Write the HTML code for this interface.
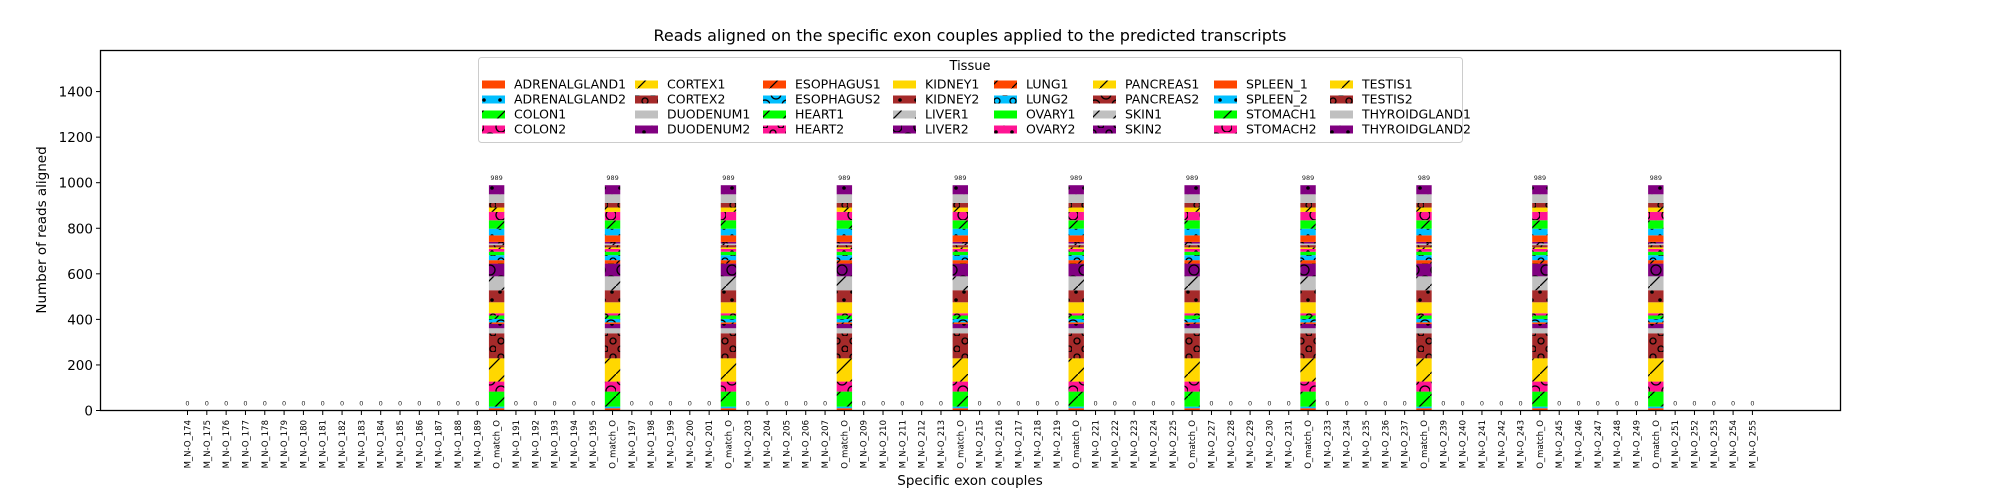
<!DOCTYPE html>
<html><head><meta charset="utf-8"><style>
html,body{margin:0;padding:0;background:#fff;}
svg{display:block;font-family:"DejaVu Sans","Liberation Sans",sans-serif;}
</style></head><body>
<svg id="chart" width="2000" height="500" viewBox="0 0 2000 500" xmlns="http://www.w3.org/2000/svg">
<defs id="defs"></defs>
<rect x="0" y="0" width="2000" height="500" fill="#fff"/>
<text x="970" y="41" font-size="16" text-anchor="middle">Reads aligned on the specific exon couples applied to the predicted transcripts</text>
<text x="970" y="485" font-size="13.5" text-anchor="middle">Specific exon couples</text>
<text transform="translate(46,230) rotate(-90)" font-size="13.5" text-anchor="middle">Number of reads aligned</text>
<g id="bars"></g>
<g id="yaxis"></g>
<g id="xaxis"></g>
<rect x="100.5" y="50.5" width="1740" height="360" fill="none" stroke="#000" stroke-width="1.3"/>
<g id="legend"></g>
</svg>
<script>
const categories = ["M_N-O_174","M_N-O_175","M_N-O_176","M_N-O_177","M_N-O_178","M_N-O_179","M_N-O_180","M_N-O_181","M_N-O_182","M_N-O_183","M_N-O_184","M_N-O_185","M_N-O_186","M_N-O_187","M_N-O_188","M_N-O_189","O_match_O",
"M_N-O_191","M_N-O_192","M_N-O_193","M_N-O_194","M_N-O_195","O_match_O",
"M_N-O_197","M_N-O_198","M_N-O_199","M_N-O_200","M_N-O_201","O_match_O",
"M_N-O_203","M_N-O_204","M_N-O_205","M_N-O_206","M_N-O_207","O_match_O",
"M_N-O_209","M_N-O_210","M_N-O_211","M_N-O_212","M_N-O_213","O_match_O",
"M_N-O_215","M_N-O_216","M_N-O_217","M_N-O_218","M_N-O_219","O_match_O",
"M_N-O_221","M_N-O_222","M_N-O_223","M_N-O_224","M_N-O_225","O_match_O",
"M_N-O_227","M_N-O_228","M_N-O_229","M_N-O_230","M_N-O_231","O_match_O",
"M_N-O_233","M_N-O_234","M_N-O_235","M_N-O_236","M_N-O_237","O_match_O",
"M_N-O_239","M_N-O_240","M_N-O_241","M_N-O_242","M_N-O_243","O_match_O",
"M_N-O_245","M_N-O_246","M_N-O_247","M_N-O_248","M_N-O_249","O_match_O",
"M_N-O_251","M_N-O_252","M_N-O_253","M_N-O_254","M_N-O_255"];
const seriesNames = ["ADRENALGLAND1","ADRENALGLAND2","COLON1","COLON2","CORTEX1","CORTEX2","DUODENUM1","DUODENUM2","ESOPHAGUS1","ESOPHAGUS2","HEART1","HEART2","KIDNEY1","KIDNEY2","LIVER1","LIVER2","LUNG1","LUNG2","OVARY1","OVARY2","PANCREAS1","PANCREAS2","SKIN1","SKIN2","SPLEEN_1","SPLEEN_2","STOMACH1","STOMACH2","TESTIS1","TESTIS2","THYROIDGLAND1","THYROIDGLAND2"];
// values for each series on O_match_O bars (other categories are 0)
const matchValues = [10,7,66,44,102,110,22,19,7,15,15,10,48,53,61,56,15,22,15,12,7,10,7,7,29,29,37,37,19,20,38,40];
const nonMatchValues = seriesNames.map(()=>0);
const yTicks = [0,200,400,600,800,1000,1200,1400];

const colorCycle = ["#ff4500","#00bfff","#00ff00","#ff1493","#ffd700","#a52a2a","#c0c0c0","#800080"];
const hatchCycle = ["","dot","slash","bigO","slash","smallo"];
const NS="http://www.w3.org/2000/svg";
const Y0=410.5, PXU=0.2278, X0=187.5, STEP=19.32, BW=15.4;
const yS=v=>Y0-v*PXU;
const xS=i=>X0+i*STEP;
function mk(tag,attrs,parent){const e=document.createElementNS(NS,tag);for(const k in attrs)e.setAttribute(k,attrs[k]);if(parent)parent.appendChild(e);return e;}
const defs=document.getElementById('defs');
function fillFor(s){
  const c=colorCycle[s%8], h=hatchCycle[s%6];
  if(!h) return c;
  const id='p'+s;
  const w=(h==='slash'||h==='bigO')?22:16;
  const p=mk('pattern',{id:id,patternUnits:'userSpaceOnUse',width:w,height:w},defs);
  mk('rect',{x:0,y:0,width:w,height:w,fill:c},p);
  if(h==='slash'){mk('line',{x1:0,y1:w,x2:w,y2:0,stroke:'#000','stroke-width':1.3},p);}
  if(h==='dot'){mk('circle',{cx:4,cy:4,r:1.8,fill:'#000'},p);mk('circle',{cx:12,cy:12,r:1.8,fill:'#000'},p);}
  if(h==='smallo'){mk('circle',{cx:5,cy:5,r:3,fill:'none',stroke:'#000','stroke-width':1.3},p);mk('circle',{cx:13,cy:13,r:3,fill:'none',stroke:'#000','stroke-width':1.3},p);}
  if(h==='bigO'){mk('circle',{cx:6,cy:6,r:5,fill:'none',stroke:'#000','stroke-width':1.3},p);mk('circle',{cx:17,cy:17,r:5,fill:'none',stroke:'#000','stroke-width':1.3},p);}
  return 'url(#'+id+')';
}
const fills=seriesNames.map((n,s)=>fillFor(s));

const bars=document.getElementById('bars');
categories.forEach((cat,i)=>{
  const vals = cat==='O_match_O'?matchValues:nonMatchValues;
  let acc=0;
  vals.forEach((v,s)=>{
    if(v<=0) return;
    const r=mk('rect',{x:xS(i)-BW/2,y:yS(acc+v),width:BW,height:v*PXU,fill:fills[s]},bars);
    
    
    acc+=v;
  });
  const t=mk('text',{x:xS(i),y:yS(acc)-5,'font-size':6.5,'text-anchor':'middle',fill:'#222'},bars);
  t.textContent=String(acc);
  
  
});

const ya=document.getElementById('yaxis');
yTicks.forEach(v=>{
  const l=mk('line',{x1:96,x2:100,y1:yS(v),y2:yS(v),stroke:'#000','stroke-width':1},ya);
  
  
  const t=mk('text',{x:93,y:yS(v)+5,'font-size':13.5,'text-anchor':'end'},ya);
  t.textContent=String(v);
  
  
});
const xa=document.getElementById('xaxis');
categories.forEach((c,i)=>{
  const l=mk('line',{x1:xS(i),x2:xS(i),y1:411,y2:415,stroke:'#000','stroke-width':1},xa);
  
  
  const t=mk('text',{transform:'translate('+(xS(i)+3)+',420) rotate(-90)','font-size':8.5,'text-anchor':'end'},xa);
  t.textContent=c;
  
  
});

const lg=document.getElementById('legend');
const box=mk('rect',{x:478.5,y:57.5,width:984,height:85,rx:3,fill:'#fff','fill-opacity':0.85,stroke:'#ccc','stroke-width':1},lg);


const lt=mk('text',{x:970,y:70,'font-size':13,'text-anchor':'middle'},lg);
lt.textContent='Tissue';


const colPatch=[482,635,763,893,994,1093,1214,1330];
const rowY=[84,99,114,129];
seriesNames.forEach((n,s)=>{
  const col=Math.floor(s/4), row=s%4;
  const g=mk('g',{},lg);
  
  
  mk('rect',{x:colPatch[col],y:rowY[row]-3.5,width:23,height:8,fill:fills[s]},g);
  const t=mk('text',{x:colPatch[col]+32,y:rowY[row]+4.5,'font-size':12.5},g);
  t.textContent=n;
});
</script>
</body></html>
